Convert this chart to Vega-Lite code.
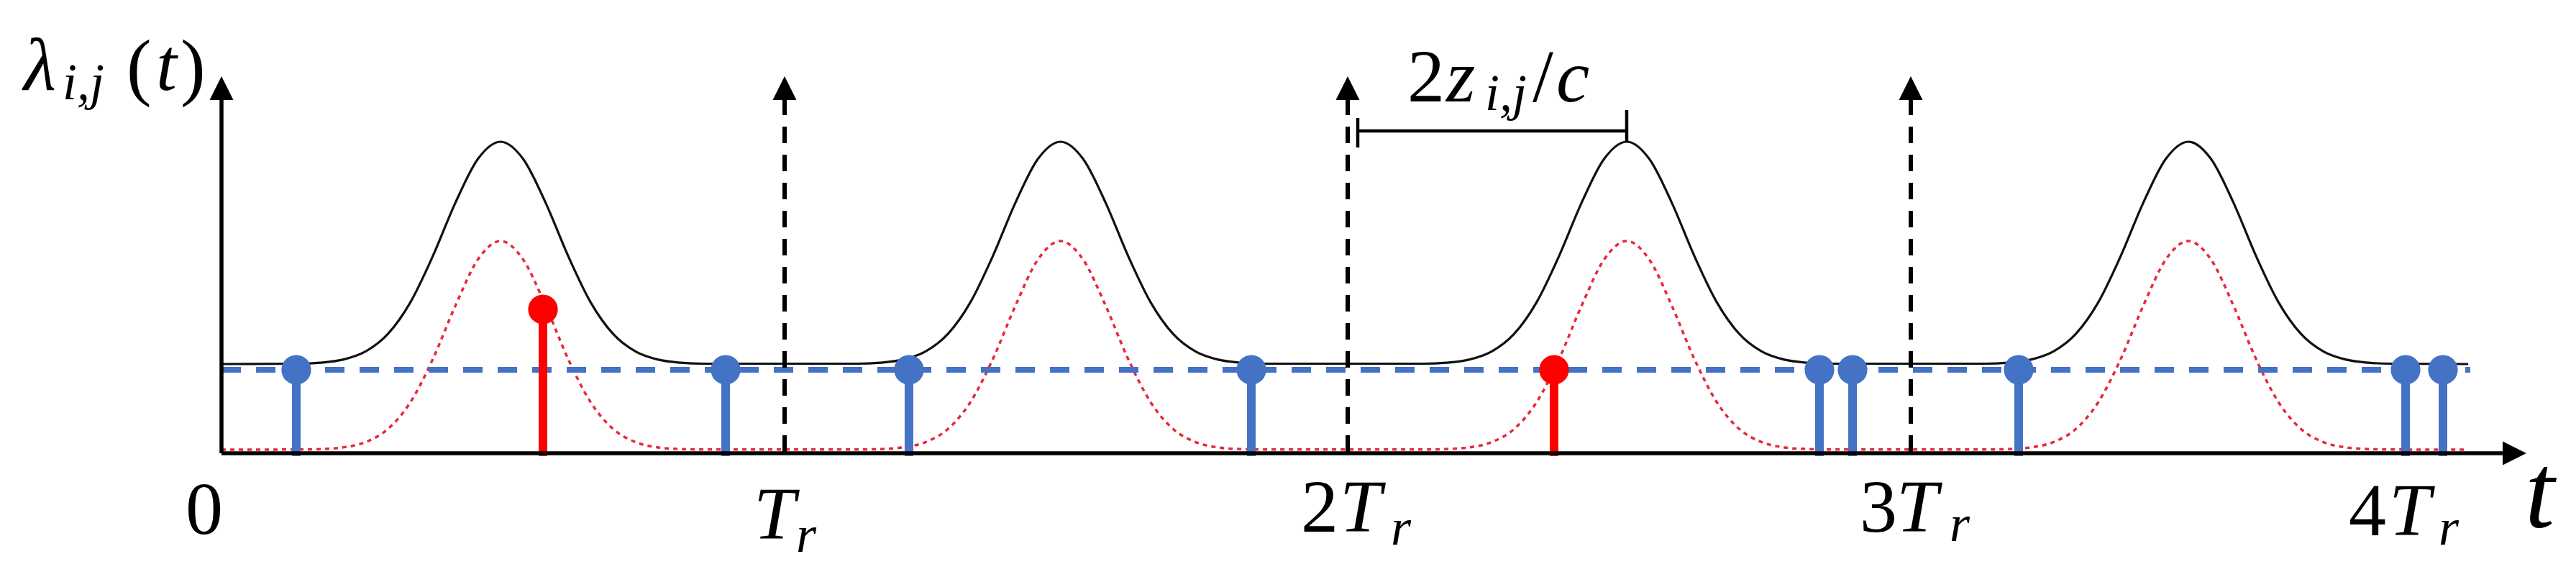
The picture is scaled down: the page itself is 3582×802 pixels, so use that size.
{
  "$schema": "https://vega.github.io/schema/vega-lite/v6.json",
  "width": 3582,
  "height": 802,
  "autosize": {"type": "none"},
  "padding": 0,
  "background": "white",
  "config": {"view": {"stroke": null}},
  "datasets": {
    "black": [
      {"t": 0, "v": 1.24},
      {"t": 0.1355, "v": 1.245}, {"t": 0.1755, "v": 1.259}, {"t": 0.2155, "v": 1.301}, {"t": 0.2555, "v": 1.413}, {"t": 0.2955, "v": 1.658}, {"t": 0.3355, "v": 2.099}, {"t": 0.3755, "v": 2.744}, {"t": 0.4155, "v": 3.484}, {"t": 0.4555, "v": 4.092}, {"t": 0.4955, "v": 4.33}, {"t": 0.5355, "v": 4.092}, {"t": 0.5755, "v": 3.484}, {"t": 0.6155, "v": 2.744}, {"t": 0.6555, "v": 2.099}, {"t": 0.6955, "v": 1.658}, {"t": 0.7355, "v": 1.413}, {"t": 0.7755, "v": 1.301}, {"t": 0.8155, "v": 1.259}, {"t": 0.8555, "v": 1.245},
      {"t": 1.13, "v": 1.245}, {"t": 1.17, "v": 1.259}, {"t": 1.21, "v": 1.301}, {"t": 1.25, "v": 1.413}, {"t": 1.29, "v": 1.658}, {"t": 1.33, "v": 2.099}, {"t": 1.37, "v": 2.744}, {"t": 1.41, "v": 3.484}, {"t": 1.45, "v": 4.092}, {"t": 1.49, "v": 4.33}, {"t": 1.53, "v": 4.092}, {"t": 1.57, "v": 3.484}, {"t": 1.61, "v": 2.744}, {"t": 1.65, "v": 2.099}, {"t": 1.69, "v": 1.658}, {"t": 1.73, "v": 1.413}, {"t": 1.77, "v": 1.301}, {"t": 1.81, "v": 1.259}, {"t": 1.85, "v": 1.245},
      {"t": 2.1355, "v": 1.245}, {"t": 2.1755, "v": 1.259}, {"t": 2.2155, "v": 1.301}, {"t": 2.2555, "v": 1.413}, {"t": 2.2955, "v": 1.658}, {"t": 2.3355, "v": 2.099}, {"t": 2.3755, "v": 2.744}, {"t": 2.4155, "v": 3.484}, {"t": 2.4555, "v": 4.092}, {"t": 2.4955, "v": 4.33}, {"t": 2.5355, "v": 4.092}, {"t": 2.5755, "v": 3.484}, {"t": 2.6155, "v": 2.744}, {"t": 2.6555, "v": 2.099}, {"t": 2.6955, "v": 1.658}, {"t": 2.7355, "v": 1.413}, {"t": 2.7755, "v": 1.301}, {"t": 2.8155, "v": 1.259}, {"t": 2.8555, "v": 1.245},
      {"t": 3.133, "v": 1.245}, {"t": 3.173, "v": 1.259}, {"t": 3.213, "v": 1.301}, {"t": 3.253, "v": 1.413}, {"t": 3.293, "v": 1.658}, {"t": 3.333, "v": 2.099}, {"t": 3.373, "v": 2.744}, {"t": 3.413, "v": 3.484}, {"t": 3.453, "v": 4.092}, {"t": 3.493, "v": 4.33}, {"t": 3.533, "v": 4.092}, {"t": 3.573, "v": 3.484}, {"t": 3.613, "v": 2.744}, {"t": 3.653, "v": 2.099}, {"t": 3.693, "v": 1.658}, {"t": 3.733, "v": 1.413}, {"t": 3.773, "v": 1.301}, {"t": 3.813, "v": 1.259}, {"t": 3.853, "v": 1.245},
      {"t": 3.99, "v": 1.24}
    ],
    "red": [
      {"t": 0, "v": 0.05},
      {"t": 0.1355, "v": 0.052}, {"t": 0.1755, "v": 0.058}, {"t": 0.2155, "v": 0.081}, {"t": 0.2555, "v": 0.154}, {"t": 0.2955, "v": 0.337}, {"t": 0.3355, "v": 0.71}, {"t": 0.3755, "v": 1.312}, {"t": 0.4155, "v": 2.053}, {"t": 0.4555, "v": 2.694}, {"t": 0.4955, "v": 2.95}, {"t": 0.5355, "v": 2.694}, {"t": 0.5755, "v": 2.053}, {"t": 0.6155, "v": 1.312}, {"t": 0.6555, "v": 0.71}, {"t": 0.6955, "v": 0.337}, {"t": 0.7355, "v": 0.154}, {"t": 0.7755, "v": 0.081}, {"t": 0.8155, "v": 0.058}, {"t": 0.8555, "v": 0.052},
      {"t": 1.13, "v": 0.052}, {"t": 1.17, "v": 0.058}, {"t": 1.21, "v": 0.081}, {"t": 1.25, "v": 0.154}, {"t": 1.29, "v": 0.337}, {"t": 1.33, "v": 0.71}, {"t": 1.37, "v": 1.312}, {"t": 1.41, "v": 2.053}, {"t": 1.45, "v": 2.694}, {"t": 1.49, "v": 2.95}, {"t": 1.53, "v": 2.694}, {"t": 1.57, "v": 2.053}, {"t": 1.61, "v": 1.312}, {"t": 1.65, "v": 0.71}, {"t": 1.69, "v": 0.337}, {"t": 1.73, "v": 0.154}, {"t": 1.77, "v": 0.081}, {"t": 1.81, "v": 0.058}, {"t": 1.85, "v": 0.052},
      {"t": 2.1355, "v": 0.052}, {"t": 2.1755, "v": 0.058}, {"t": 2.2155, "v": 0.081}, {"t": 2.2555, "v": 0.154}, {"t": 2.2955, "v": 0.337}, {"t": 2.3355, "v": 0.71}, {"t": 2.3755, "v": 1.312}, {"t": 2.4155, "v": 2.053}, {"t": 2.4555, "v": 2.694}, {"t": 2.4955, "v": 2.95}, {"t": 2.5355, "v": 2.694}, {"t": 2.5755, "v": 2.053}, {"t": 2.6155, "v": 1.312}, {"t": 2.6555, "v": 0.71}, {"t": 2.6955, "v": 0.337}, {"t": 2.7355, "v": 0.154}, {"t": 2.7755, "v": 0.081}, {"t": 2.8155, "v": 0.058}, {"t": 2.8555, "v": 0.052},
      {"t": 3.133, "v": 0.052}, {"t": 3.173, "v": 0.058}, {"t": 3.213, "v": 0.081}, {"t": 3.253, "v": 0.154}, {"t": 3.293, "v": 0.337}, {"t": 3.333, "v": 0.71}, {"t": 3.373, "v": 1.312}, {"t": 3.413, "v": 2.053}, {"t": 3.453, "v": 2.694}, {"t": 3.493, "v": 2.95}, {"t": 3.533, "v": 2.694}, {"t": 3.573, "v": 2.053}, {"t": 3.613, "v": 1.312}, {"t": 3.653, "v": 0.71}, {"t": 3.693, "v": 0.337}, {"t": 3.733, "v": 0.154}, {"t": 3.773, "v": 0.081}, {"t": 3.813, "v": 0.058}, {"t": 3.853, "v": 0.052},
      {"t": 3.983, "v": 0.05}
    ],
    "noise": [{"t": 0, "v": 1.16}, {"t": 3.9936, "v": 1.16}],
    "periods": [{"t": 1, "top": 4.93}, {"t": 2, "top": 4.93}, {"t": 3, "top": 4.93}],
    "axes": [
      {"t": 0, "v": 0, "t2": 0, "v2": 4.93},
      {"t": 0, "v": 0, "t2": 4.051, "v2": 0}
    ],
    "events": [
      {"t": 0.1328, "top": 1.16, "kind": "noise"},
      {"t": 0.5709, "top": 2.0, "kind": "signal"},
      {"t": 0.8953, "top": 1.16, "kind": "noise"},
      {"t": 1.2209, "top": 1.16, "kind": "noise"},
      {"t": 1.8289, "top": 1.16, "kind": "noise"},
      {"t": 2.3665, "top": 1.16, "kind": "signal"},
      {"t": 2.8378, "top": 1.16, "kind": "noise"},
      {"t": 2.8966, "top": 1.16, "kind": "noise"},
      {"t": 3.1916, "top": 1.16, "kind": "noise"},
      {"t": 3.8787, "top": 1.16, "kind": "noise"},
      {"t": 3.9451, "top": 1.16, "kind": "noise"}
    ],
    "arrows": [
      {"t": 0, "v": 5.24, "dir": "up"},
      {"t": 1, "v": 5.24, "dir": "up"},
      {"t": 2, "v": 5.24, "dir": "up"},
      {"t": 3, "v": 5.24, "dir": "up"},
      {"t": 4.0932, "v": 0, "dir": "right"}
    ],
    "bracket": [
      {"t": 2.0179, "v": 4.48, "t2": 2.4955, "v2": 4.48},
      {"t": 2.0179, "v": 4.25, "t2": 2.0179, "v2": 4.66},
      {"t": 2.4955, "v": 4.33, "t2": 2.4955, "v2": 4.77}
    ],
    "upright": [
      {"t": -0.0639, "v": -1.12, "s": "0"},
      {"t": 1.917, "v": -1.09, "s": "2"},
      {"t": 2.9093, "v": -1.09, "s": "3"},
      {"t": 3.7778, "v": -1.14, "s": "4"},
      {"t": 2.106, "v": 4.89, "s": "2"},
      {"t": -0.1686, "v": 5.03, "s": "("},
      {"t": -0.0728, "v": 5.03, "s": ")"},
      {"t": 2.3282, "v": 4.89, "s": "/"}
    ],
    "italic": [
      {"t": -0.3512, "v": 5.05, "s": "λ"},
      {"t": -0.1162, "v": 5.05, "s": "t"},
      {"t": 0.9451, "v": -1.19, "s": "T"},
      {"t": 1.9859, "v": -1.09, "s": "T"},
      {"t": 2.9745, "v": -1.09, "s": "T"},
      {"t": 3.8493, "v": -1.14, "s": "T"},
      {"t": 2.175, "v": 4.89, "s": "z"},
      {"t": 2.3704, "v": 4.89, "s": "c"}
    ],
    "subscripts": [
      {"t": -0.2822, "v": 4.92, "s": "i,j"},
      {"t": 1.0204, "v": -1.37, "s": "r"},
      {"t": 2.0766, "v": -1.27, "s": "r"},
      {"t": 3.069, "v": -1.22, "s": "r"},
      {"t": 3.9374, "v": -1.27, "s": "r"},
      {"t": 2.2439, "v": 4.77, "s": "i,j"}
    ],
    "axislabel": [
      {"t": 4.0907, "v": -1.03, "s": "t"}
    ]
  },
  "layer": [
    {
      "data": {"name": "red"},
      "mark": {"type": "line", "color": "#E8283C", "strokeWidth": 3.5, "strokeDash": [6, 6], "interpolate": "monotone"},
      "encoding": {
        "x": {"field": "t", "type": "quantitative", "scale": {"domain": [-0.393359, 4.181354], "nice": false, "zero": false}, "axis": null},
        "y": {"field": "v", "type": "quantitative", "scale": {"domain": [-1.72, 6.3], "nice": false, "zero": false}, "axis": null}
      }
    },
    {
      "data": {"name": "black"},
      "mark": {"type": "line", "color": "#111111", "strokeWidth": 3.2, "interpolate": "monotone"},
      "encoding": {
        "x": {"field": "t", "type": "quantitative"},
        "y": {"field": "v", "type": "quantitative"}
      }
    },
    {
      "data": {"name": "noise"},
      "mark": {"type": "line", "color": "#4472C4", "strokeWidth": 8, "strokeDash": [27, 21]},
      "encoding": {
        "x": {"field": "t", "type": "quantitative"},
        "y": {"field": "v", "type": "quantitative"}
      }
    },
    {
      "data": {"name": "events"},
      "mark": {"type": "rule", "strokeWidth": 12},
      "encoding": {
        "x": {"field": "t", "type": "quantitative"},
        "y": {"field": "top", "type": "quantitative"},
        "y2": {"datum": -0.04},
        "color": {"field": "kind", "type": "nominal", "scale": {"domain": ["noise", "signal"], "range": ["#4472C4", "#FF0000"]}, "legend": null}
      }
    },
    {
      "data": {"name": "events"},
      "mark": {"type": "point", "shape": "circle", "filled": true, "opacity": 1, "size": 1700},
      "encoding": {
        "x": {"field": "t", "type": "quantitative"},
        "y": {"field": "top", "type": "quantitative"},
        "color": {"field": "kind", "type": "nominal", "scale": {"domain": ["noise", "signal"], "range": ["#4472C4", "#FF0000"]}, "legend": null}
      }
    },
    {
      "data": {"name": "periods"},
      "mark": {"type": "rule", "color": "black", "strokeWidth": 6, "strokeDash": [23, 16]},
      "encoding": {
        "x": {"field": "t", "type": "quantitative"},
        "y": {"field": "top", "type": "quantitative"},
        "y2": {"datum": 0}
      }
    },
    {
      "data": {"name": "axes"},
      "mark": {"type": "rule", "color": "black", "strokeWidth": 5.5},
      "encoding": {
        "x": {"field": "t", "type": "quantitative"},
        "y": {"field": "v", "type": "quantitative"},
        "x2": {"field": "t2"},
        "y2": {"field": "v2"}
      }
    },
    {
      "data": {"name": "arrows"},
      "mark": {"type": "point", "filled": true, "opacity": 1, "size": 1089, "color": "black", "strokeWidth": 0},
      "encoding": {
        "x": {"field": "t", "type": "quantitative"},
        "y": {"field": "v", "type": "quantitative"},
        "shape": {"field": "dir", "type": "nominal", "scale": {"domain": ["up", "right"], "range": ["M0,0L1,2L-1,2Z", "M0,0L-2,-1L-2,1Z"]}, "legend": null}
      }
    },
    {
      "data": {"name": "bracket"},
      "mark": {"type": "rule", "color": "black", "strokeWidth": 4.5},
      "encoding": {
        "x": {"field": "t", "type": "quantitative"},
        "y": {"field": "v", "type": "quantitative"},
        "x2": {"field": "t2"},
        "y2": {"field": "v2"}
      }
    },
    {
      "data": {"name": "upright"},
      "mark": {"type": "text", "font": "'Liberation Serif', 'DejaVu Serif', serif", "fontSize": 104, "align": "left", "baseline": "alphabetic", "color": "black"},
      "encoding": {
        "x": {"field": "t", "type": "quantitative"},
        "y": {"field": "v", "type": "quantitative"},
        "text": {"field": "s"}
      }
    },
    {
      "data": {"name": "italic"},
      "mark": {"type": "text", "font": "'Liberation Serif', 'DejaVu Serif', serif", "fontSize": 104, "fontStyle": "italic", "align": "left", "baseline": "alphabetic", "color": "black"},
      "encoding": {
        "x": {"field": "t", "type": "quantitative"},
        "y": {"field": "v", "type": "quantitative"},
        "text": {"field": "s"}
      }
    },
    {
      "data": {"name": "subscripts"},
      "mark": {"type": "text", "font": "'Liberation Serif', 'DejaVu Serif', serif", "fontSize": 72, "fontStyle": "italic", "align": "left", "baseline": "alphabetic", "color": "black"},
      "encoding": {
        "x": {"field": "t", "type": "quantitative"},
        "y": {"field": "v", "type": "quantitative"},
        "text": {"field": "s"}
      }
    },
    {
      "data": {"name": "axislabel"},
      "mark": {"type": "text", "font": "'Liberation Serif', 'DejaVu Serif', serif", "fontSize": 148, "fontStyle": "italic", "align": "left", "baseline": "alphabetic", "color": "black"},
      "encoding": {
        "x": {"field": "t", "type": "quantitative"},
        "y": {"field": "v", "type": "quantitative"},
        "text": {"field": "s"}
      }
    }
  ]
}
